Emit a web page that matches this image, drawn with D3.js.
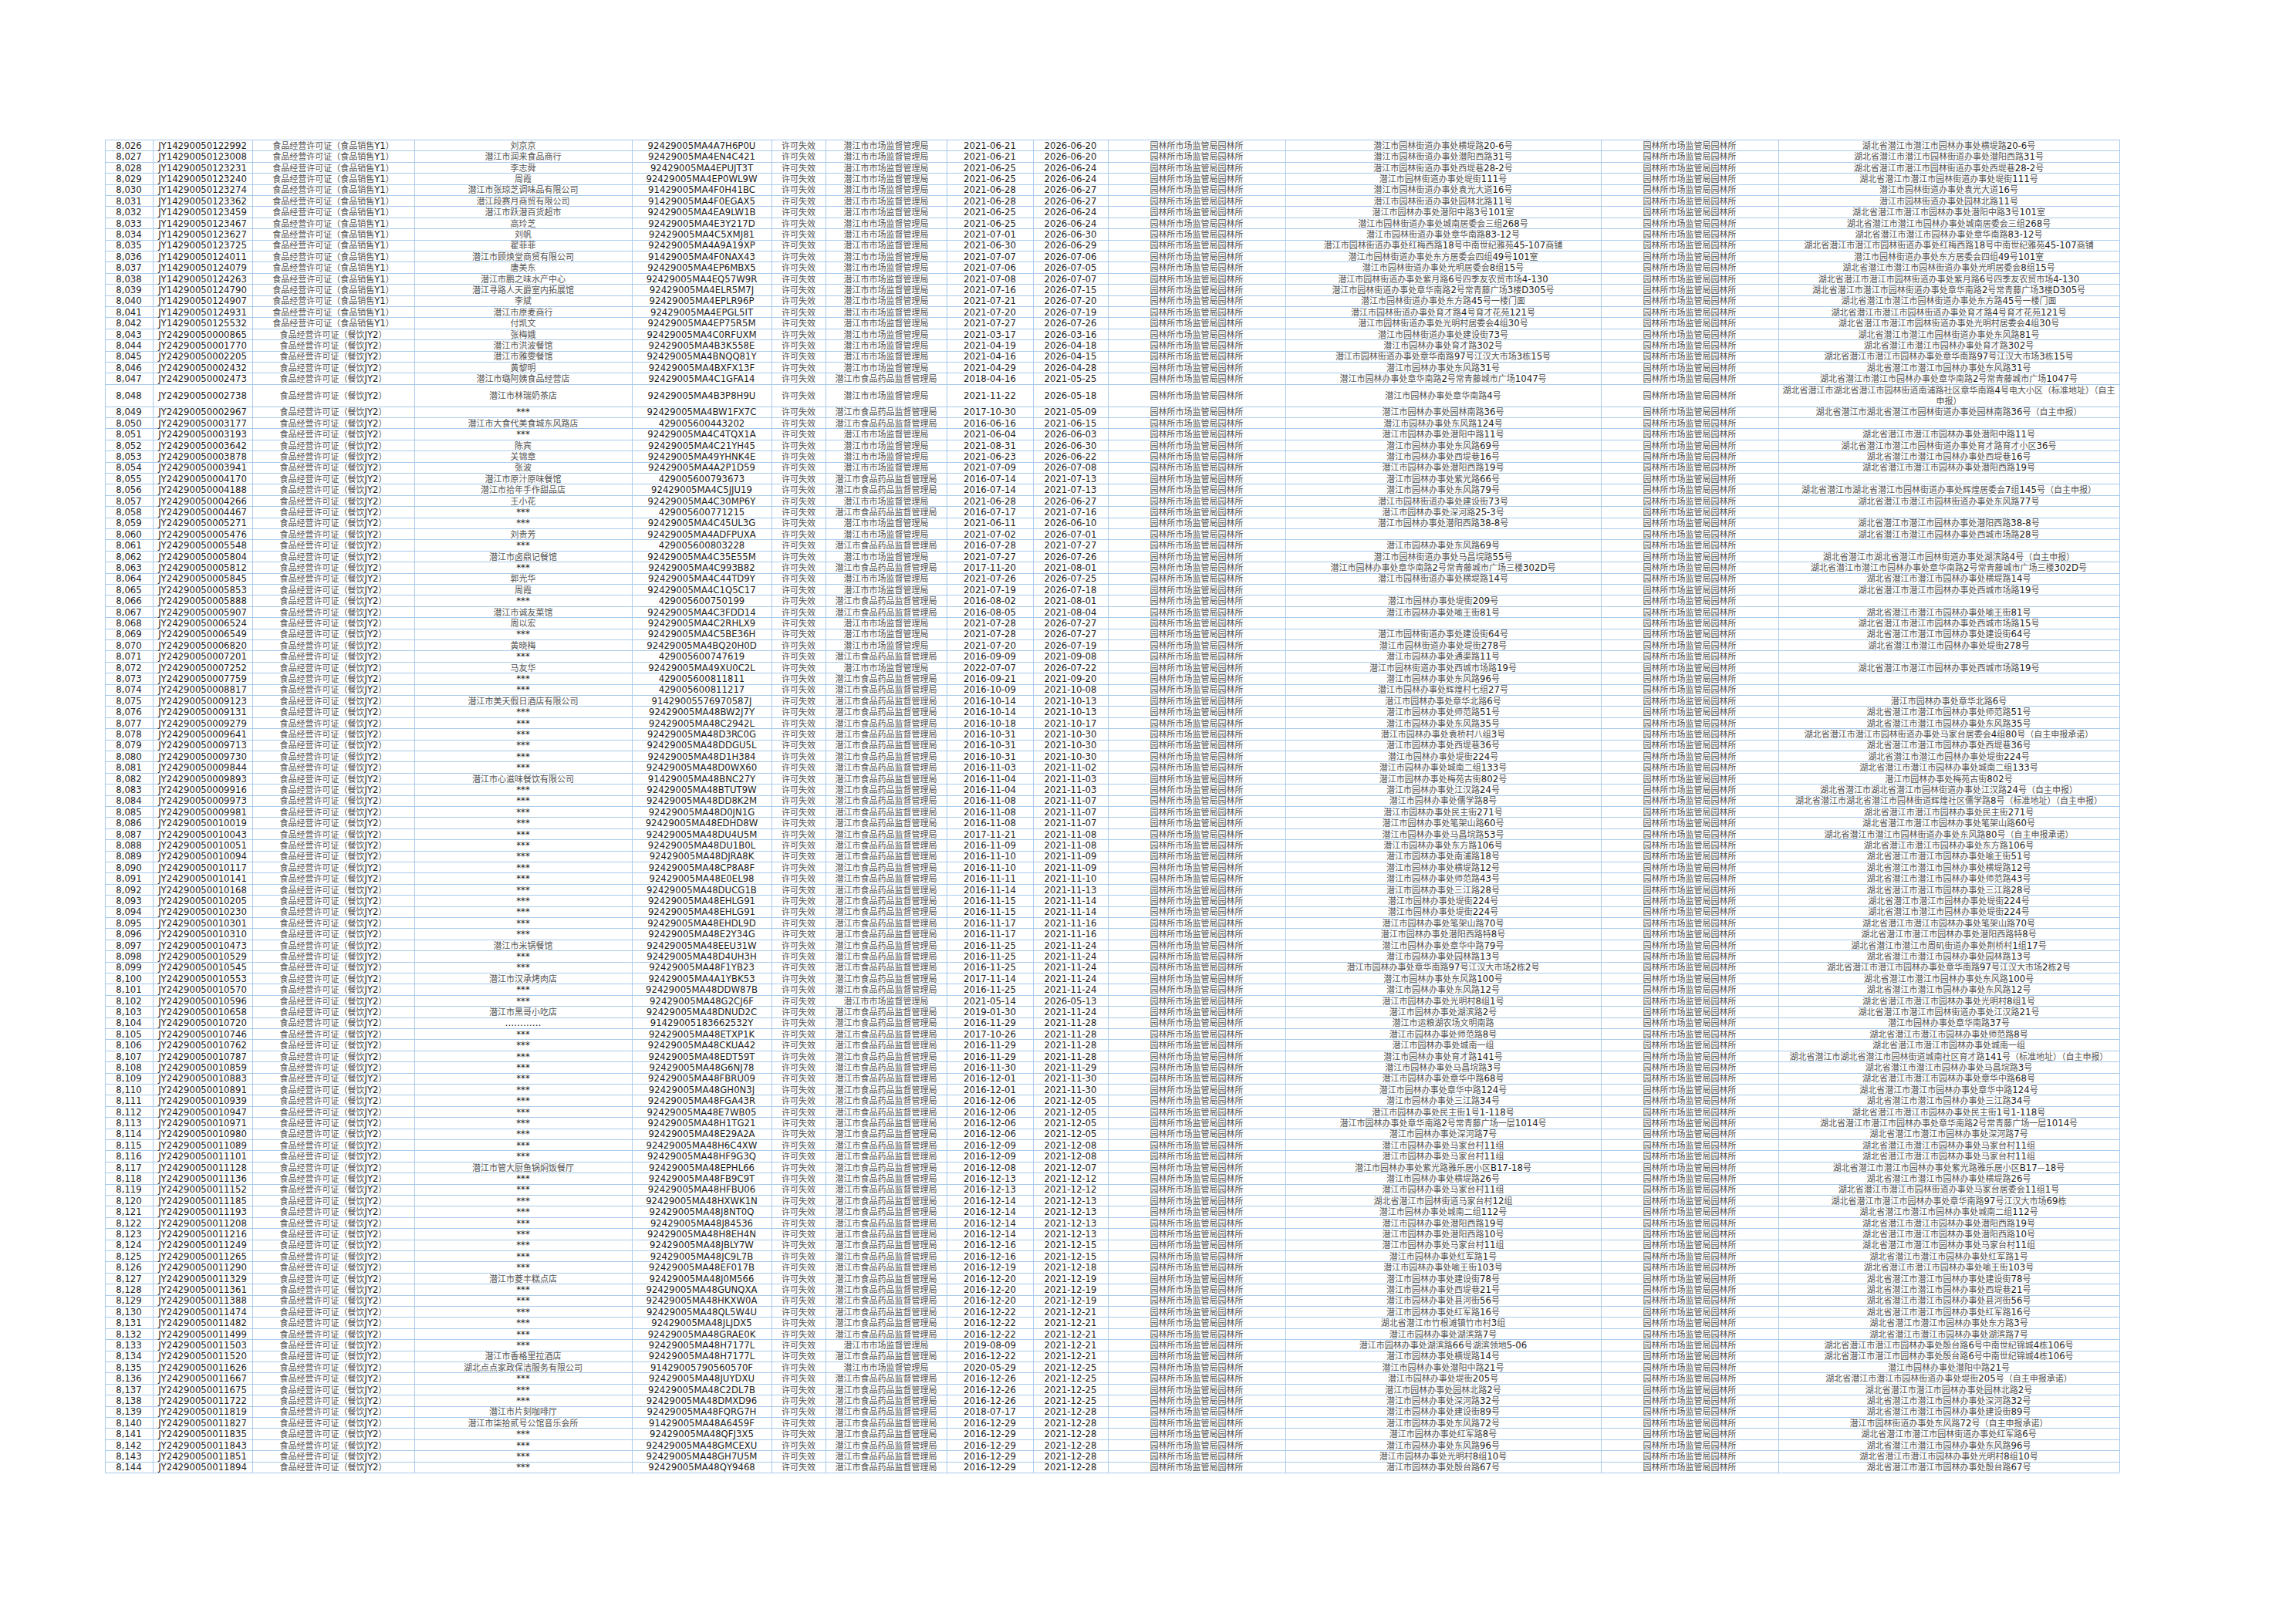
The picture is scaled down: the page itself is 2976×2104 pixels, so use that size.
<!DOCTYPE html>
<html>
<head>
<meta charset="utf-8">
<script src="https://cdn.jsdelivr.net/npm/d3@7"></script>
<style>
  body { margin: 0; background: #fff; }
  .lat { font-family: 'Liberation Sans Narrow', 'Arial Narrow', 'DejaVu Sans Condensed', sans-serif; font-size: 13px; fill: #1e1e1e; }
  .cjk { font-family: 'Noto Sans CJK SC', sans-serif; font-size: 11px; fill: #555; }
</style>
</head>
<body>
<script>
// row numbers
const rowNo = ['8,026','8,027','8,028','8,029','8,030','8,031','8,032','8,033','8,034','8,035','8,036','8,037','8,038','8,039','8,040','8,041','8,042','8,043','8,044','8,045','8,046','8,047','8,048','8,049','8,050','8,051','8,052','8,053','8,054','8,055','8,056','8,057','8,058','8,059','8,060','8,061','8,062','8,063','8,064','8,065','8,066','8,067','8,068','8,069','8,070','8,071','8,072','8,073','8,074','8,075','8,076','8,077','8,078','8,079','8,080','8,081','8,082','8,083','8,084','8,085','8,086','8,087','8,088','8,089','8,090','8,091','8,092','8,093','8,094','8,095','8,096','8,097','8,098','8,099','8,100','8,101','8,102','8,103','8,104','8,105','8,106','8,107','8,108','8,109','8,110','8,111','8,112','8,113','8,114','8,115','8,116','8,117','8,118','8,119','8,120','8,121','8,122','8,123','8,124','8,125','8,126','8,127','8,128','8,129','8,130','8,131','8,132','8,133','8,134','8,135','8,136','8,137','8,138','8,139','8,140','8,141','8,142','8,143','8,144'];

// licence numbers
const licenceNo = ['JY14290050122992','JY14290050123008','JY14290050123231','JY14290050123240','JY14290050123274','JY14290050123362','JY14290050123459','JY14290050123467','JY14290050123627','JY14290050123725','JY14290050124011','JY14290050124079','JY14290050124263','JY14290050124790','JY14290050124907','JY14290050124931','JY14290050125532',
'JY24290050000865','JY24290050001770','JY24290050002205','JY24290050002432','JY24290050002473','JY24290050002738','JY24290050002967','JY24290050003177','JY24290050003193','JY24290050003642','JY24290050003878','JY24290050003941','JY24290050004170','JY24290050004188','JY24290050004266','JY24290050004467','JY24290050005271','JY24290050005476','JY24290050005548','JY24290050005804','JY24290050005812','JY24290050005845','JY24290050005853','JY24290050005888','JY24290050005907','JY24290050006524','JY24290050006549','JY24290050006820','JY24290050007201','JY24290050007252','JY24290050007759','JY24290050008817',
'JY24290050009123','JY24290050009131','JY24290050009279','JY24290050009641','JY24290050009713','JY24290050009730','JY24290050009844','JY24290050009893','JY24290050009916','JY24290050009973','JY24290050009981','JY24290050010019','JY24290050010043','JY24290050010051','JY24290050010094','JY24290050010117','JY24290050010141','JY24290050010168','JY24290050010205','JY24290050010230','JY24290050010301','JY24290050010310','JY24290050010473','JY24290050010529','JY24290050010545','JY24290050010553','JY24290050010570','JY24290050010596','JY24290050010658','JY24290050010720','JY24290050010746','JY24290050010762','JY24290050010787','JY24290050010859','JY24290050010883',
'JY24290050010891','JY24290050010939','JY24290050010947','JY24290050010971','JY24290050010980','JY24290050011089','JY24290050011101','JY24290050011128','JY24290050011136','JY24290050011152','JY24290050011185','JY24290050011193','JY24290050011208','JY24290050011216','JY24290050011249','JY24290050011265','JY24290050011290','JY24290050011329','JY24290050011361','JY24290050011388','JY24290050011474','JY24290050011482','JY24290050011499','JY24290050011503','JY24290050011520','JY24290050011626','JY24290050011667','JY24290050011675','JY24290050011722','JY24290050011819','JY24290050011827','JY24290050011835','JY24290050011843','JY24290050011851','JY24290050011894'];

const licenceTypes = { JY1: '食品经营许可证（食品销售Y1）', JY2: '食品经营许可证（餐饮JY2）' };

const holder = ['刘京京','潜江市润来食品商行','李志舜','周霞','潜江市张琼芝调味品有限公司','潜江段赛月商贸有限公司','潜江市跃潜百货超市','高玲芝','刘帆','翟菲菲','潜江市顾焕堂商贸有限公司','唐美东','潜江市鹏之味水产中心','潜江寻路人天爵室内拓展馆','李斌','潜江市原麦商行','付凯文',
'张梅娥','潜江市洪波餐馆','潜江市雅雯餐馆','黄黎明','潜江市璐阿姨食品经营店','潜江市林瑞奶茶店','***','潜江市大食代美食城东风路店','***','陈宾','关锦章','张波','潜江市原汁原味餐馆','潜江市拾年手作甜品店','王小花','***','***','刘贵芳','***','潜江市卤鼎记餐馆','***','郭光华','周霞','***','潜江市诚友菜馆','周以宏','***','黄晓梅','***','马友华','***','***',
'潜江市美天假日酒店有限公司','***','***','***','***','***','***','潜江市心滋味餐饮有限公司','***','***','***','***','***','***','***','***','***','***','***','***','***','***','潜江市米锅餐馆','***','***','潜江市汉承烤肉店','***','***','潜江市黑哥小吃店','…………','***','***','***','***','***',
'***','***','***','***','***','***','***','潜江市管大厨鱼锅焖饭餐厅','***','***','***','***','***','***','***','***','***','潜江市菱丰糕点店','***','***','***','***','***','***','潜江市香格里拉酒店','湖北点点家政保洁服务有限公司','***','***','***','潜江市片刻咖啡厅','潜江市柒拾贰号公馆音乐会所','***','***','***','***'];

const creditCode = ['92429005MA4A7H6P0U','92429005MA4EN4C421','92429005MA4EPUJT3T','92429005MA4EP0WL9W','91429005MA4F0H41BC','91429005MA4F0EGAX5','92429005MA4EA9LW1B','92429005MA4E3Y217D','92429005MA4C5XMJ81','92429005MA4A9A19XP','91429005MA4F0NAX43','92429005MA4EP6MBX5','92429005MA4EQ57W9R','92429005MA4ELR5M7J','92429005MA4EPLR96P','92429005MA4EPGL5IT','92429005MA4EP75R5M',
'92429005MA4C0RFUXM','92429005MA4B3K558E','92429005MA4BNQQ81Y','92429005MA4BXFX13F','92429005MA4C1GFA14','92429005MA4B3P8H9U','92429005MA4BW1FX7C','429005600443202','92429005MA4C4TQX1A','92429005MA4C21YH45','92429005MA49YHNK4E','92429005MA4A2P1D59','429005600793673','92429005MA4C5JJU19','92429005MA4C30MP6Y','429005600771215','92429005MA4C45UL3G','92429005MA4ADFPUXA','429005600803228','92429005MA4C35E55M','92429005MA4C993B82','92429005MA4C44TD9Y','92429005MA4C1Q5C17','429005600750199','92429005MA4C3FDD14','92429005MA4C2RHLX9','92429005MA4C5BE36H','92429005MA4BQ20H0D','429005600747619','92429005MA49XU0C2L','429005600811811','429005600811217',
'91429005576970587J','92429005MA48BW2J7Y','92429005MA48C2942L','92429005MA48D3RC0G','92429005MA48DDGU5L','92429005MA48D1H384','92429005MA48D0WX60','91429005MA48BNC27Y','92429005MA48BTUT9W','92429005MA48DD8K2M','92429005MA48D0JN1G','92429005MA48EDHD8W','92429005MA48DU4U5M','92429005MA48DU1B0L','92429005MA48DJRA8K','92429005MA48CP8A8F','92429005MA48E0EL98','92429005MA48DUCG1B','92429005MA48EHLG91','92429005MA48EHLG91','92429005MA48EHDL9D','92429005MA48E2Y34G','92429005MA48EEU31W','92429005MA48D4UH3H','92429005MA48F1YB23','92429005MA4A1YBK53','92429005MA48DDW87B','92429005MA48G2CJ6F','92429005MA48DNUD2C','91429005183662532Y','92429005MA48ETXP1K','92429005MA48CKUA42','92429005MA48EDT59T','92429005MA48G6NJ78','92429005MA48FBRU09',
'92429005MA48GH0N3J','92429005MA48FGA43R','92429005MA48E7WB05','92429005MA48H1TG21','92429005MA48E29A2A','92429005MA48H6C4XW','92429005MA48HF9G3Q','92429005MA48EPHL66','92429005MA48FB9C9T','92429005MA48HFBU06','92429005MA48HXWK1N','92429005MA48J8NT0Q','92429005MA48J84536','92429005MA48H8EH4N','92429005MA48JBLY7W','92429005MA48JC9L7B','92429005MA48EF017B','92429005MA48J0M566','92429005MA48GUNQXA','92429005MA48HKXW0A','92429005MA48QL5W4U','92429005MA48JLJDX5','92429005MA48GRAE0K','92429005MA48H7177L','92429005MA48H7177L','91429005790560570F','92429005MA48JUYDXU','92429005MA48C2DL7B','92429005MA48DMXD96','92429005MA48FQRG7H','91429005MA48A6459F','92429005MA48QFJ3X5','92429005MA48GMCEXU','92429005MA48GH7U5M','92429005MA48QY9468'];

const statusText = '许可失效';
const agencyNames = ['潜江市市场监督管理局', '潜江市食品药品监督管理局'];
const agency = [0,0,0,0,0,0,0,0,0,0,0,0,0,0,0,0,0,0,0,0,0,
1,0,1,1,0,0,0,0,1,1,0,1,0,0,1,0,1,0,0,1,1,0,0,0,1,0,
1,1,1,1,1,1,1,1,1,1,1,1,1,1,1,1,1,1,1,1,1,1,1,1,1,1,1,1,1,
0,
1,1,1,1,1,1,1,1,1,1,1,1,1,1,1,1,1,1,1,1,1,1,1,1,1,1,1,1,1,1,
0,1,0,
1,1,1,1,1,1,1,1,1];

const startDate = ['2021-06-21','2021-06-21','2021-06-25','2021-06-25','2021-06-28','2021-06-28','2021-06-25','2021-06-25','2021-07-01','2021-06-30','2021-07-07','2021-07-06','2021-07-08','2021-07-16','2021-07-21','2021-07-20','2021-07-27',
'2021-03-17','2021-04-19','2021-04-16','2021-04-29','2018-04-16','2021-11-22','2017-10-30','2016-06-16','2021-06-04','2021-08-31','2021-06-23','2021-07-09','2016-07-14','2016-07-14','2021-06-28','2016-07-17','2021-06-11','2021-07-02','2016-07-28','2021-07-27','2017-11-20','2021-07-26','2021-07-19','2016-08-02','2016-08-05','2021-07-28','2021-07-28','2021-07-20','2016-09-09','2022-07-07','2016-09-21','2016-10-09',
'2016-10-14','2016-10-14','2016-10-18','2016-10-31','2016-10-31','2016-10-31','2016-11-03','2016-11-04','2016-11-04','2016-11-08','2016-11-08','2016-11-08','2017-11-21','2016-11-09','2016-11-10','2016-11-10','2016-11-11','2016-11-14','2016-11-15','2016-11-15','2016-11-17','2016-11-17','2016-11-25','2016-11-25','2016-11-25','2017-11-14','2016-11-25','2021-05-14','2019-01-30','2016-11-29','2017-10-26','2016-11-29','2016-11-29','2016-11-30','2016-12-01',
'2016-12-01','2016-12-06','2016-12-06','2016-12-06','2016-12-06','2016-12-09','2016-12-09','2016-12-08','2016-12-13','2016-12-13','2016-12-14','2016-12-14','2016-12-14','2016-12-14','2016-12-16','2016-12-16','2016-12-19','2016-12-20','2016-12-20','2016-12-20','2016-12-22','2016-12-22','2016-12-22','2019-08-09','2016-12-22','2020-05-29','2016-12-26','2016-12-26','2016-12-26','2018-07-17','2016-12-29','2016-12-29','2016-12-29','2016-12-29','2016-12-29'];

const endDate = ['2026-06-20','2026-06-20','2026-06-24','2026-06-24','2026-06-27','2026-06-27','2026-06-24','2026-06-24','2026-06-30','2026-06-29','2026-07-06','2026-07-05','2026-07-07','2026-07-15','2026-07-20','2026-07-19','2026-07-26',
'2026-03-16','2026-04-18','2026-04-15','2026-04-28','2021-05-25','2026-05-18','2021-05-09','2021-06-15','2026-06-03','2026-06-30','2026-06-22','2026-07-08','2021-07-13','2021-07-13','2026-06-27','2021-07-16','2026-06-10','2026-07-01','2021-07-27','2026-07-26','2021-08-01','2026-07-25','2026-07-18','2021-08-01','2021-08-04','2026-07-27','2026-07-27','2026-07-19','2021-09-08','2026-07-22','2021-09-20','2021-10-08',
'2021-10-13','2021-10-13','2021-10-17','2021-10-30','2021-10-30','2021-10-30','2021-11-02','2021-11-03','2021-11-03','2021-11-07','2021-11-07','2021-11-07','2021-11-08','2021-11-08','2021-11-09','2021-11-09','2021-11-10','2021-11-13','2021-11-14','2021-11-14','2021-11-16','2021-11-16','2021-11-24','2021-11-24','2021-11-24','2021-11-24','2021-11-24','2026-05-13','2021-11-24','2021-11-28','2021-11-28','2021-11-28','2021-11-28','2021-11-29','2021-11-30',
'2021-11-30','2021-12-05','2021-12-05','2021-12-05','2021-12-05','2021-12-08','2021-12-08','2021-12-07','2021-12-12','2021-12-12','2021-12-13','2021-12-13','2021-12-13','2021-12-13','2021-12-15','2021-12-15','2021-12-18','2021-12-19','2021-12-19','2021-12-19','2021-12-21','2021-12-21','2021-12-21','2021-12-21','2021-12-21','2021-12-25','2021-12-25','2021-12-25','2021-12-25','2021-12-28','2021-12-28','2021-12-28','2021-12-28','2021-12-28','2021-12-28'];

const officeText = '园林所市场监管局园林所';

const siteAddress = ['潜江市园林街道办事处横堤路20-6号','潜江市园林街道办事处潜阳西路31号','潜江市园林街道办事处西堤巷28-2号','潜江市园林街道办事处堤街111号','潜江市园林街道办事处袁光大道16号','潜江市园林街道办事处园林北路11号','潜江市园林办事处潜阳中路3号101室','潜江市园林街道办事处城南居委会三组268号','潜江市园林街道办事处章华南路83-12号','潜江市园林街道办事处红梅西路18号中南世纪雅苑45-107商铺','潜江市园林街道办事处东方居委会四组49号101室','潜江市园林街道办事处光明居委会8组15号','潜江市园林街道办事处紫月路6号四季友农贸市场4-130','潜江市园林街道办事处章华南路2号常青藤广场3楼D305号','潜江市园林街道办事处东方路45号一楼门面','潜江市园林街道办事处育才路4号育才花苑121号','潜江市园林街道办事处光明村居委会4组30号',
'潜江市园林街道办事处建设街73号','潜江市园林办事处育才路302号','潜江市园林街道办事处章华南路97号江汉大市场3栋15号','潜江市园林办事处东风路31号','潜江市园林办事处章华南路2号常青藤城市广场1047号','潜江市园林办事处章华南路4号','潜江市园林办事处园林南路36号','潜江市园林办事处东风路124号','潜江市园林办事处潜阳中路11号','潜江市园林办事处东风路69号','潜江市园林办事处西堤巷16号','潜江市园林办事处潜阳西路19号','潜江市园林办事处紫光路66号','潜江市园林办事处东风路79号','潜江市园林街道办事处建设街73号','潜江市园林办事处深河路25-3号','潜江市园林办事处潜阳西路38-8号','','潜江市园林办事处东风路69号','潜江市园林街道办事处马昌垸路55号','潜江市园林办事处章华南路2号常青藤城市广场三楼302D号','潜江市园林街道办事处横堤路14号','','潜江市园林办事处堤街209号','潜江市园林办事处喻王街81号','','潜江市园林街道办事处建设街64号','潜江市园林街道办事处堤街278号','潜江市园林办事处通渠路11号','潜江市园林街道办事处西城市场路19号','潜江市园林办事处东风路96号','潜江市园林办事处辉煌村七组27号',
'潜江市园林办事处章华北路6号','潜江市园林办事处师范路51号','潜江市园林办事处东风路35号','潜江市园林办事处袁桥村八组3号','潜江市园林办事处西堤巷36号','潜江市园林办事处堤街224号','潜江市园林办事处城南二组133号','潜江市园林办事处梅苑古街802号','潜江市园林办事处江汉路24号','潜江市园林办事处儒学路8号','潜江市园林办事处民主街271号','潜江市园林办事处笔架山路60号','潜江市园林办事处马昌垸路53号','潜江市园林办事处东方路106号','潜江市园林办事处南浦路18号','潜江市园林办事处横堤路12号','潜江市园林办事处师范路43号','潜江市园林办事处三江路28号','潜江市园林办事处堤街224号','潜江市园林办事处堤街224号','潜江市园林办事处笔架山路70号','潜江市园林办事处潜阳西路特8号','潜江市园林办事处章华中路79号','潜江市园林办事处园林路13号','潜江市园林办事处章华南路97号江汉大市场2栋2号','潜江市园林办事处东风路100号','潜江市园林办事处东风路12号','潜江市园林办事处光明村8组1号','潜江市园林办事处湖滨路2号','潜江市运粮湖农场文明南路','潜江市园林办事处师范路8号','潜江市园林办事处城南一组','潜江市园林办事处育才路141号','潜江市园林办事处马昌垸路3号','潜江市园林办事处章华中路68号',
'潜江市园林办事处章华中路124号','潜江市园林办事处三江路34号','潜江市园林办事处民主街1号1-118号','潜江市园林办事处章华南路2号常青藤广场一层1014号','潜江市园林办事处深河路7号','潜江市园林办事处马家台村11组','潜江市园林办事处马家台村11组','潜江市园林办事处紫光路雅乐居小区B17-18号','潜江市园林办事处横堤路26号','潜江市园林办事处马家台村11组','湖北省潜江市园林街道马家台村12组','潜江市园林办事处城南二组112号','潜江市园林办事处潜阳西路19号','潜江市园林办事处潜阳西路10号','潜江市园林办事处马家台村11组','潜江市园林办事处红军路1号','潜江市园林办事处喻王街103号','潜江市园林办事处建设街78号','潜江市园林办事处西堤巷21号','潜江市园林办事处县河街56号','潜江市园林办事处红军路16号','湖北省潜江市竹根滩镇竹市村3组','潜江市园林办事处湖滨路7号','潜江市园林办事处湖滨路66号湖滨领地5-06','潜江市园林办事处横堤路14号','潜江市园林办事处潜阳中路21号','潜江市园林办事处堤街205号','潜江市园林办事处园林北路2号','潜江市园林办事处深河路32号','潜江市园林办事处建设街89号','潜江市园林办事处东风路72号','潜江市园林办事处红军路8号','潜江市园林办事处东风路96号','潜江市园林办事处光明村8组10号','潜江市园林办事处殷台路67号'];

const regAddress = ['湖北省潜江市潜江市园林办事处横堤路20-6号','湖北省潜江市潜江市园林街道办事处潜阳西路31号','湖北省潜江市潜江市园林街道办事处西堤巷28-2号','湖北省潜江市潜江市园林街道办事处堤街111号','潜江市园林街道办事处袁光大道16号','潜江市园林街道办事处园林北路11号','湖北省潜江市潜江市园林办事处潜阳中路3号101室','湖北省潜江市潜江市园林办事处城南居委会三组268号','湖北省潜江市潜江市园林办事处章华南路83-12号','湖北省潜江市潜江市园林街道办事处红梅西路18号中南世纪雅苑45-107商铺','潜江市园林街道办事处东方居委会四组49号101室','湖北省潜江市潜江市园林街道办事处光明居委会8组15号','湖北省潜江市潜江市园林街道办事处紫月路6号四季友农贸市场4-130','湖北省潜江市潜江市园林街道办事处章华南路2号常青藤广场3楼D305号','湖北省潜江市潜江市园林街道办事处东方路45号一楼门面','湖北省潜江市潜江市园林街道办事处育才路4号育才花苑121号','湖北省潜江市潜江市园林街道办事处光明村居委会4组30号',
'湖北省潜江市潜江市园林街道办事处东风路81号','湖北省潜江市潜江市园林办事处育才路302号','湖北省潜江市潜江市园林办事处章华南路97号江汉大市场3栋15号','湖北省潜江市潜江市园林办事处东风路31号','湖北省潜江市潜江市园林办事处章华南路2号常青藤城市广场1047号','湖北省潜江市湖北省潜江市园林街道南浦路社区章华南路4号电大小区（标准地址）（自主申报）','湖北省潜江市湖北省潜江市园林街道办事处园林南路36号（自主申报）','','湖北省潜江市潜江市园林办事处潜阳中路11号','湖北省潜江市潜江市园林街道办事处育才路育才小区36号','湖北省潜江市潜江市园林办事处西堤巷16号','湖北省潜江市潜江市园林办事处潜阳西路19号','','湖北省潜江市湖北省潜江市园林街道办事处辉煌居委会7组145号（自主申报）','湖北省潜江市潜江市园林街道办事处东风路77号','','湖北省潜江市潜江市园林办事处潜阳西路38-8号','湖北省潜江市潜江市园林办事处西城市场路28号','','湖北省潜江市湖北省潜江市园林街道办事处湖滨路4号（自主申报）','湖北省潜江市潜江市园林办事处章华南路2号常青藤城市广场三楼302D号','湖北省潜江市潜江市园林办事处横堤路14号','湖北省潜江市潜江市园林办事处西城市场路19号','','湖北省潜江市潜江市园林办事处喻王街81号','湖北省潜江市潜江市园林办事处西城市场路15号','湖北省潜江市潜江市园林办事处建设街64号','湖北省潜江市潜江市园林办事处堤街278号','','湖北省潜江市潜江市园林办事处西城市场路19号','','',
'潜江市园林办事处章华北路6号','湖北省潜江市潜江市园林办事处师范路51号','湖北省潜江市潜江市园林办事处东风路35号','湖北省潜江市潜江市园林街道办事处马家台居委会4组80号（自主申报承诺）','湖北省潜江市潜江市园林办事处西堤巷36号','湖北省潜江市潜江市园林办事处堤街224号','湖北省潜江市潜江市园林办事处城南二组133号','潜江市园林办事处梅苑古街802号','湖北省潜江市湖北省潜江市园林街道办事处江汉路24号（自主申报）','湖北省潜江市湖北省潜江市园林街道辉煌社区儒学路8号（标准地址）（自主申报）','湖北省潜江市潜江市园林办事处民主街271号','湖北省潜江市潜江市园林办事处笔架山路60号','湖北省潜江市潜江市园林街道办事处东风路80号（自主申报承诺）','湖北省潜江市潜江市园林办事处东方路106号','湖北省潜江市潜江市园林办事处喻王街51号','湖北省潜江市潜江市园林办事处横堤路12号','湖北省潜江市潜江市园林办事处师范路43号','湖北省潜江市潜江市园林办事处三江路28号','湖北省潜江市潜江市园林办事处堤街224号','湖北省潜江市潜江市园林办事处堤街224号','湖北省潜江市潜江市园林办事处笔架山路70号','湖北省潜江市潜江市园林办事处潜阳西路特8号','湖北省潜江市潜江市周矶街道办事处荆桥村1组17号','湖北省潜江市潜江市园林办事处园林路13号','湖北省潜江市潜江市园林办事处章华南路97号江汉大市场2栋2号','湖北省潜江市潜江市园林办事处东风路100号','湖北省潜江市潜江市园林办事处东风路12号','湖北省潜江市潜江市园林办事处光明村8组1号','湖北省潜江市潜江市园林街道办事处江汉路21号','潜江市园林办事处章华南路37号','湖北省潜江市潜江市园林办事处师范路8号','湖北省潜江市潜江市园林办事处城南一组','湖北省潜江市湖北省潜江市园林街道城南社区育才路141号（标准地址）（自主申报）','湖北省潜江市潜江市园林办事处马昌垸路3号','湖北省潜江市潜江市园林办事处章华中路68号',
'湖北省潜江市潜江市园林办事处章华中路124号','湖北省潜江市潜江市园林办事处三江路34号','湖北省潜江市潜江市园林办事处民主街1号1-118号','湖北省潜江市潜江市园林办事处章华南路2号常青藤广场一层1014号','湖北省潜江市潜江市园林办事处深河路7号','湖北省潜江市潜江市园林办事处马家台村11组','湖北省潜江市潜江市园林办事处马家台村11组','湖北省潜江市潜江市园林办事处紫光路雅乐居小区B17—18号','湖北省潜江市潜江市园林办事处横堤路26号','湖北省潜江市潜江市园林街道办事处马家台居委会11组1号','湖北省潜江市潜江市园林办事处章华南路97号江汉大市场69栋','湖北省潜江市潜江市园林办事处城南二组112号','湖北省潜江市潜江市园林办事处潜阳西路19号','湖北省潜江市潜江市园林办事处潜阳西路10号','湖北省潜江市潜江市园林办事处马家台村11组','湖北省潜江市潜江市园林办事处红军路1号','湖北省潜江市潜江市园林办事处喻王街103号','湖北省潜江市潜江市园林办事处建设街78号','湖北省潜江市潜江市园林办事处西堤巷21号','湖北省潜江市潜江市园林办事处县河街56号','湖北省潜江市潜江市园林办事处红军路16号','湖北省潜江市潜江市园林办事处东方路3号','湖北省潜江市潜江市园林办事处湖滨路7号','湖北省潜江市潜江市园林办事处殷台路6号中南世纪锦城4栋106号','湖北省潜江市潜江市园林办事处殷台路6号中南世纪锦城4栋106号','潜江市园林办事处潜阳中路21号','湖北省潜江市潜江市园林街道办事处堤街205号（自主申报承诺）','湖北省潜江市潜江市园林办事处园林北路2号','湖北省潜江市潜江市园林办事处深河路32号','湖北省潜江市潜江市园林办事处建设街89号','潜江市园林街道办事处东风路72号（自主申报承诺）','湖北省潜江市潜江市园林街道办事处红军路6号','湖北省潜江市潜江市园林办事处东风路96号','湖北省潜江市潜江市园林办事处光明村8组10号','湖北省潜江市潜江市园林办事处殷台路67号'];

// table layout
const W = 2976, H = 2104;
const colWidths = [62, 129, 210, 282, 181, 70, 157, 112, 97, 230, 409, 230, 442];
const tableLeft = 136, tableTop = 181, lineH = 14.4;
const gridColor = '#a9cbeb';

const rows = rowNo.map((n, i) => {
  const no = licenceNo[i];
  return [n, no, licenceTypes[no.slice(0, 3)], holder[i], creditCode[i], statusText,
          agencyNames[agency[i]], startDate[i], endDate[i], officeText, siteAddress[i], officeText, regAddress[i]];
});

const svg = d3.select('body').append('svg')
  .attr('width', W).attr('height', H)
  .attr('viewBox', `0 0 ${W} ${H}`);

svg.append('rect').attr('width', W).attr('height', H).attr('fill', '#fff');

const cumCols = d3.cumsum([0, ...colWidths]);
const x = d3.scaleLinear().domain([0, cumCols[cumCols.length - 1]])
  .range([tableLeft, tableLeft + cumCols[cumCols.length - 1]]);

// split text into CJK and latin runs
const cjkRe = /([\u3000-\u303f\u3400-\u9fff\uff00-\uffef\u2014]+)/;
function fillRuns(sel, s) {
  s.split(cjkRe).filter(t => t).forEach(t => {
    sel.append('tspan').attr('class', cjkRe.test(t) ? 'cjk' : 'lat').text(t);
  });
}

const meas = svg.append('text').attr('x', -9999).attr('y', -9999);
function measure(s) {
  meas.selectAll('*').remove();
  fillRuns(meas, s);
  return meas.node().getComputedTextLength();
}
function wrap(s, maxW) {
  if (!s || measure(s) <= maxW) return [s];
  const lines = [];
  let cur = '';
  for (const ch of s) {
    if (cur && measure(cur + ch) > maxW) { lines.push(cur); cur = ch; }
    else cur += ch;
  }
  if (cur) lines.push(cur);
  return lines;
}

const cellLines = rows.map(r => r.map((s, c) => wrap(s, colWidths[c] - 1)));
meas.remove();
const units = cellLines.map(r => d3.max(r, l => l.length));
const cumRows = d3.cumsum([0, ...units]);
const total = cumRows[cumRows.length - 1];
const y = d3.scaleLinear().domain([0, total]).range([tableTop, tableTop + total * lineH]);

// grid
const grid = svg.append('g').attr('stroke', gridColor).attr('stroke-width', 1);
grid.selectAll('line.h').data(cumRows).join('line').attr('class', 'h')
  .attr('x1', x(0)).attr('x2', x(cumCols[cumCols.length - 1]))
  .attr('y1', d => Math.round(y(d)) + 0.5).attr('y2', d => Math.round(y(d)) + 0.5);
grid.selectAll('line.v').data(cumCols).join('line').attr('class', 'v')
  .attr('y1', y(0)).attr('y2', y(total))
  .attr('x1', d => Math.round(x(d)) + 0.5).attr('x2', d => Math.round(x(d)) + 0.5);

// cells
const body = svg.append('g');
cellLines.forEach((r, i) => {
  const mid = (y(cumRows[i]) + y(cumRows[i + 1])) / 2;
  r.forEach((lines, c) => {
    const cx = (x(cumCols[c]) + x(cumCols[c + 1])) / 2;
    lines.forEach((ln, k) => {
      if (!ln) return;
      const t = body.append('text')
        .attr('x', cx)
        .attr('y', mid + (k - (lines.length - 1) / 2) * lineH + 4.5)
        .attr('text-anchor', 'middle');
      fillRuns(t, ln);
    });
  });
});
</script>
</body>
</html>
